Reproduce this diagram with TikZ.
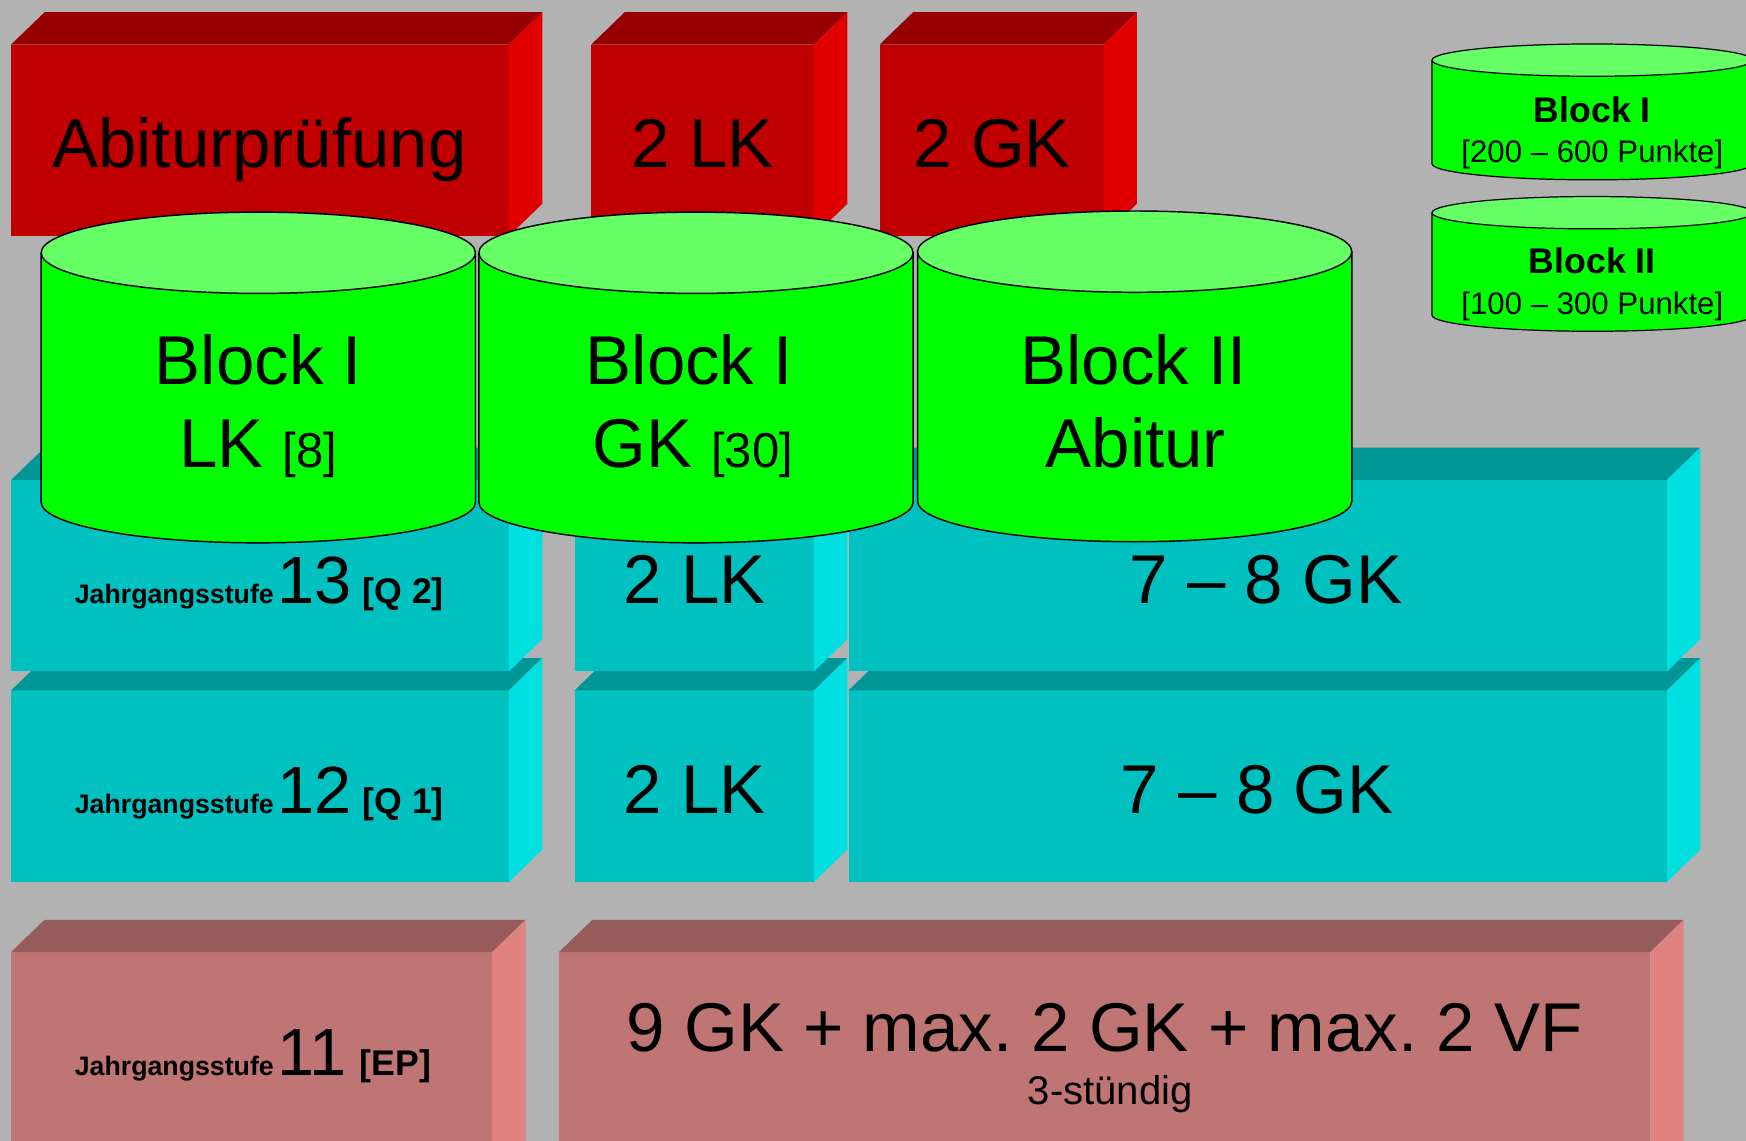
\documentclass[tikz,border=0pt]{standalone}
\usepackage{fontspec}
\setmainfont{Liberation Sans}
\frenchspacing
\definecolor{bggray}{RGB}{178,178,178}
\definecolor{redfront}{RGB}{192,0,0}
\definecolor{redtop}{RGB}{150,0,0}
\definecolor{redside}{RGB}{224,0,0}
\definecolor{cyfront}{RGB}{0,192,192}
\definecolor{cytop}{RGB}{0,150,150}
\definecolor{cyside}{RGB}{0,224,224}
\definecolor{pkfront}{RGB}{192,117,117}
\definecolor{pktop}{RGB}{150,92,90}
\definecolor{pkside}{RGB}{224,130,130}
\definecolor{greenbody}{RGB}{0,255,0}
\definecolor{greentop}{RGB}{102,255,102}
\newcommand{\threedbox}[8]{%
  \node[fill=#6, minimum width=#4pt, minimum height=#5pt, inner sep=0pt, outer sep=0pt, anchor=north west] (#1) at (#2,#3) {};
  \fill[#7] (#1.north west) -- ++(30,-29) -- ([xshift=30pt,yshift=29pt]#1.north east) -- (#1.north east) -- cycle;
  \fill[#8] (#1.north east) -- ++(30,-29) -- ([xshift=30pt,yshift=29pt]#1.south east) -- (#1.south east) -- cycle;
}
\newcommand{\greencyl}[6]{%
  \path[fill=greenbody, draw=black, line width=#6] (#1-#4,#2) -- (#1-#4,#3) arc[start angle=180, end angle=360, x radius=#4pt, y radius=#5pt] -- (#1+#4,#2);
  \path[fill=greentop, draw=black, line width=#6] (#1,#2) ellipse [x radius=#4pt, y radius=#5pt];
}
\tikzset{
  big/.style={anchor=base, inner sep=0pt, font=\fontsize{62}{74}\selectfont},
  lefttxt/.style={anchor=base west, inner sep=0pt},
  smallbold/.style={anchor=base, inner sep=0pt, font=\fontsize{32}{38}\selectfont\bfseries},
  smallreg/.style={anchor=base, inner sep=0pt, font=\fontsize{28}{34}\selectfont},
}
\newcommand{\jgs}{{\fontsize{24}{28}\selectfont\bfseries Jahrgangsstufe}}
\newcommand{\bignum}[1]{{\fontsize{60}{72}\selectfont #1}}
\newcommand{\brk}[1]{{\fontsize{32}{38}\selectfont\bfseries #1}}
\begin{document}
\begin{tikzpicture}[x=1pt,y=-1pt]
\useasboundingbox (0,0) rectangle (1568,1024);
\clip (0,0) rectangle (1568,1024);
\fill[bggray] (-5,-5) rectangle (1575,1030);

% red row
\threedbox{abi}{10}{40}{447}{172}{redfront}{redtop}{redside}
\threedbox{rlk}{531}{40}{200}{172}{redfront}{redtop}{redside}
\threedbox{rgk}{790}{40}{201}{172}{redfront}{redtop}{redside}
\node[big] (tabi) at (233,150) {Abiturprüfung};
\node[big] (trlk) at (631,150) {2 LK};
\node[big] (trgk) at (891,150) {2 GK};

% cyan row 12
\threedbox{q1a}{10}{620}{447}{172}{cyfront}{cytop}{cyside}
\threedbox{q1b}{516}{620}{215}{172}{cyfront}{cytop}{cyside}
\threedbox{q1c}{762}{620}{735}{172}{cyfront}{cytop}{cyside}
% cyan row 13
\threedbox{q2a}{10}{431}{447}{172}{cyfront}{cytop}{cyside}
\threedbox{q2b}{516}{431}{215}{172}{cyfront}{cytop}{cyside}
\threedbox{q2c}{762}{431}{735}{172}{cyfront}{cytop}{cyside}

\node[lefttxt] (tq2a) at (67,542) {\jgs\hspace{3pt}\bignum{13}\hspace{10pt}\brk{[Q 2]}};
\node[big] (tq2b) at (624,542) {2 LK};
\node[big] (tq2c) at (1137,542) {7 – 8 GK};
\node[lefttxt] (tq1a) at (67,731) {\jgs\hspace{3pt}\bignum{12}\hspace{10pt}\brk{[Q 1]}};
\node[big] (tq1b) at (624,731) {2 LK};
\node[big] (tq1c) at (1129,731) {7 – 8 GK};

% pink row 11
\threedbox{epa}{10}{855}{432}{210}{pkfront}{pktop}{pkside}
\threedbox{epb}{502}{855}{980}{210}{pkfront}{pktop}{pkside}
\node[lefttxt] (tepa) at (67,966) {\jgs\hspace{3pt}\bignum{11}\hspace{12pt}\brk{[EP]}};
\node[big] (tepb) at (992,944) {9 GK + max. 2 GK + max. 2 VF};
\node[anchor=base, inner sep=0pt, font=\fontsize{36}{42}\selectfont] (tepc) at (997,992) {3-stündig};

% big cylinders
\greencyl{232}{227}{451}{195}{36.5}{1.3pt}
\greencyl{625}{227}{451}{195}{36.5}{1.3pt}
\greencyl{1019}{226}{450}{195}{36.5}{1.3pt}
\node[big] (c1a) at (232,345) {Block I};
\node[big] (c1b) at (232,420) {LK {\fontsize{44}{52}\selectfont [8]}};
\node[big] (c2a) at (619,345) {Block I};
\node[big] (c2b) at (622,420) {GK {\fontsize{44}{52}\selectfont [30]}};
\node[big] (c3a) at (1018,345) {Block II};
\node[big] (c3b) at (1020,420) {Abitur};

% small cylinders (legend)
\greencyl{1430}{54}{147}{144}{14.5}{1.1pt}
\greencyl{1430}{191}{283}{144}{14.5}{1.1pt}
\node[smallbold] (l1a) at (1430,110) {Block I};
\node[smallreg] (l1b) at (1430,146) {[200 – 600 Punkte]};
\node[smallbold] (l2a) at (1430,246) {Block II};
\node[smallreg] (l2b) at (1430,282) {[100 – 300 Punkte]};
\end{tikzpicture}
\end{document}
